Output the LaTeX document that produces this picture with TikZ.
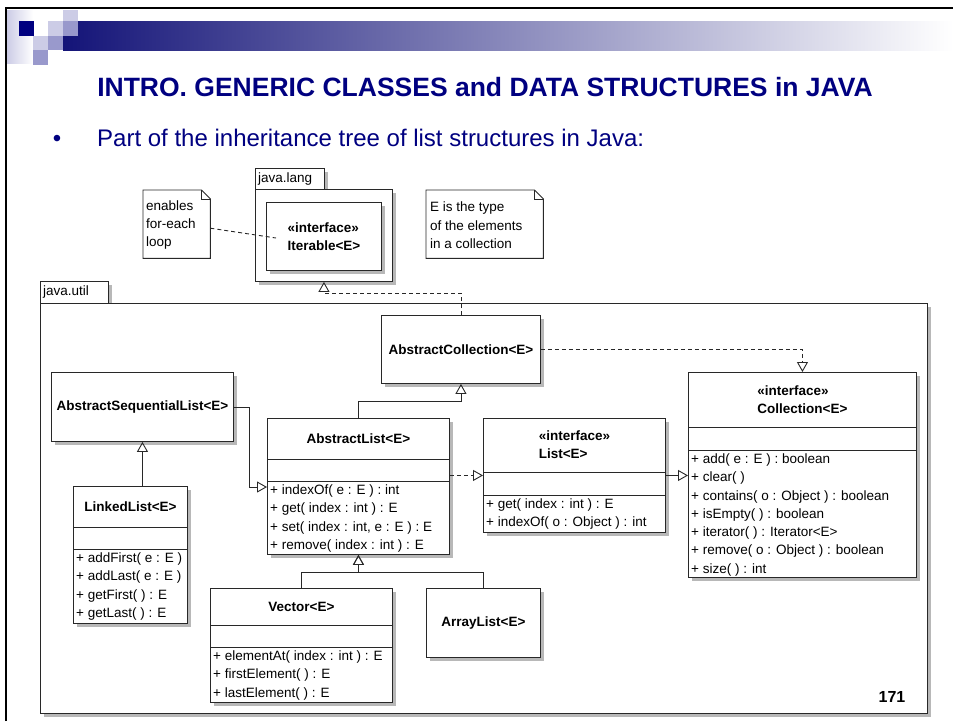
\documentclass[tikz,border=0pt]{standalone}
\usepackage{fontspec}
\setmainfont{Liberation Sans}
\usetikzlibrary{arrows.meta,shadows,calc}
\definecolor{slidenavy}{RGB}{0,0,128}
\definecolor{barnavy}{RGB}{20,20,120}
\definecolor{barmid}{RGB}{150,150,178}
\definecolor{sqlight}{RGB}{204,204,230}
\definecolor{sqmid}{RGB}{153,153,204}
\definecolor{umlline}{RGB}{40,40,40}
\newcommand{\umlfont}{\fontsize{13.5}{18.3}\selectfont}
\tikzset{
  umlbox/.style={draw=umlline, line width=0.9pt, fill=white, anchor=north west, inner sep=0pt,
    drop shadow={shadow xshift=3.5pt, shadow yshift=-3.5pt, fill=black!28, opacity=1}},
  cname/.style={font=\umlfont\bfseries, align=left, inner sep=0pt},
  members/.style={font=\umlfont, align=left, anchor=north west, inner sep=0pt},
  sepline/.style={draw=umlline, line width=0.9pt},
  notebox/.style={anchor=north west, inner sep=0pt},
  notetext/.style={font=\umlfont, align=left, anchor=west, inner sep=0pt},
  noteline/.style={draw=umlline, line width=0.9pt, fill=white},
  noteedge/.style={draw=umlline, line width=0.9pt, dash pattern=on 4pt off 3pt},
  realize/.style={draw=umlline, line width=0.9pt, dash pattern=on 4pt off 3pt,
    -{Triangle[open, length=10pt, width=11pt]}},
  extends/.style={draw=umlline, line width=0.9pt, -{Triangle[open, length=10pt, width=11pt]}},
  pkglabel/.style={font=\umlfont, anchor=west, inner sep=0pt}
}

\begin{document}
\begin{tikzpicture}[x=1pt, y=-1pt]
\useasboundingbox (0,0) rectangle (953,721);

% slide frame and banner
\shade[left color=barnavy, middle color=barmid, right color=white] (63,21) rectangle (953,50);
\shade[left color=sqlight, right color=white] (7,10) rectangle (33,63);
\fill[slidenavy] (19,21) rectangle (34,36);
\fill[sqlight] (48,21) rectangle (63,36);
\fill[sqmid] (63,21) rectangle (78,36);
\fill[sqlight] (63,10) rectangle (78,21);
\fill[sqlight] (33,36) rectangle (48,50);
\fill[sqmid] (48,36) rectangle (63,50);
\fill[sqmid] (33,50) rectangle (48,65);
\draw[line width=2.5pt] (6,721) -- (6,8) -- (953,8);

\node[anchor=base, inner sep=0pt, text=slidenavy, font=\fontsize{26.5}{30}\selectfont\bfseries]
  (title) at (485,96) {INTRO. GENERIC CLASSES and DATA STRUCTURES in JAVA};
\node[anchor=base, inner sep=0pt, text=slidenavy, font=\fontsize{24}{26}\selectfont]
  (bullet) at (57,146) {•};
\node[anchor=base west, inner sep=0pt, text=slidenavy, font=\fontsize{24}{28}\selectfont]
  (intro) at (97,146) {Part of the inheritance tree of list structures in Java:};

% packages
\node[umlbox, minimum width=69pt, minimum height=21pt] (langtab) at (255,168) {};
\node[pkglabel] (langname) at ($(langtab.west)+(3,0)$) {java.lang};
\node[umlbox, minimum width=137pt, minimum height=92pt] (lang) at (255,189) {};
\node[umlbox, minimum width=68pt, minimum height=22pt] (utiltab) at (40,281) {};
\node[pkglabel] (utilname) at ($(utiltab.west)+(3,0)$) {java.util};
\node[umlbox, minimum width=887pt, minimum height=410pt] (util) at (40,303) {};

% notes
\node[notebox, minimum width=67pt, minimum height=68pt] (note1) at (143,190) {};
\draw[noteline] (note1.north west) -- ([xshift=-9pt]note1.north east) -- ([yshift=-9pt]note1.north east)
  -- (note1.south east) -- (note1.south west) -- cycle;
\draw[noteline, fill=none] ([xshift=-9pt]note1.north east) -- ([xshift=-9pt,yshift=-9pt]note1.north east)
  -- ([yshift=-9pt]note1.north east);
\node[notetext] (note1txt) at ($(note1.west)+(3,1)$) {enables\\for-each\\loop};

\node[notebox, minimum width=117pt, minimum height=68pt] (note2) at (426,190) {};
\draw[noteline] (note2.north west) -- ([xshift=-9pt]note2.north east) -- ([yshift=-9pt]note2.north east)
  -- (note2.south east) -- (note2.south west) -- cycle;
\draw[noteline, fill=none] ([xshift=-9pt]note2.north east) -- ([xshift=-9pt,yshift=-9pt]note2.north east)
  -- ([yshift=-9pt]note2.north east);
\node[notetext] (note2txt) at ($(note2.west)+(4,1)$) {E is the type\\of the elements\\in a collection};

% classes
\node[umlbox, minimum width=115pt, minimum height=68pt] (iter) at (266,202) {};
\node[cname] (itername) at (iter.center) {«interface»\\Iterable<E>};

\node[umlbox, minimum width=159pt, minimum height=68pt] (ac) at (381,315) {};
\node[cname] (acname) at (ac.center) {AbstractCollection<E>};

\node[umlbox, minimum width=182pt, minimum height=69pt] (asl) at (51,372) {};
\node[cname] (aslname) at (asl.center) {AbstractSequentialList<E>};

\node[umlbox, minimum width=182pt, minimum height=136pt] (al) at (267,418) {};
\draw[sepline] ([yshift=-41pt]al.north west) -- ([yshift=-41pt]al.north east);
\draw[sepline] ([yshift=-63pt]al.north west) -- ([yshift=-63pt]al.north east);
\node[cname] (alname) at ($(al.north)+(0,21)$) {AbstractList<E>};
\node[members] (almem) at ($(al.north west)+(3,66.5)$)
  {+ indexOf( e : E ) : int\\+ get( index : int ) : E\\+ set( index : int, e : E ) : E\\+ remove( index : int ) : E};

\node[umlbox, minimum width=182pt, minimum height=114pt] (list) at (483,418) {};
\draw[sepline] ([yshift=-54pt]list.north west) -- ([yshift=-54pt]list.north east);
\draw[sepline] ([yshift=-77pt]list.north west) -- ([yshift=-77pt]list.north east);
\node[cname] (listname) at ($(list.north)+(0,27)$) {«interface»\\List<E>};
\node[members] (listmem) at ($(list.north west)+(3,80.5)$)
  {+ get( index : int ) : E\\+ indexOf( o : Object ) : int};

\node[umlbox, minimum width=228pt, minimum height=205pt] (coll) at (688,372) {};
\draw[sepline] ([yshift=-55pt]coll.north west) -- ([yshift=-55pt]coll.north east);
\draw[sepline] ([yshift=-78pt]coll.north west) -- ([yshift=-78pt]coll.north east);
\node[cname] (collname) at ($(coll.north)+(0,28)$) {«interface»\\Collection<E>};
\node[members] (collmem) at ($(coll.north west)+(3,81.5)$)
  {+ add( e : E ) : boolean\\+ clear( )\\+ contains( o : Object ) : boolean\\+ isEmpty( ) : boolean\\%
   + iterator( ) : Iterator<E>\\+ remove( o : Object ) : boolean\\+ size( ) : int};

\node[umlbox, minimum width=114pt, minimum height=137pt] (ll) at (73,486) {};
\draw[sepline] ([yshift=-41pt]ll.north west) -- ([yshift=-41pt]ll.north east);
\draw[sepline] ([yshift=-63pt]ll.north west) -- ([yshift=-63pt]ll.north east);
\node[cname] (llname) at ($(ll.north)+(0,21)$) {LinkedList<E>};
\node[members] (llmem) at ($(ll.north west)+(3,66.5)$)
  {+ addFirst( e : E )\\+ addLast( e : E )\\+ getFirst( ) : E\\+ getLast( ) : E};

\node[umlbox, minimum width=182pt, minimum height=114pt] (vec) at (210,588) {};
\draw[sepline] ([yshift=-37pt]vec.north west) -- ([yshift=-37pt]vec.north east);
\draw[sepline] ([yshift=-59pt]vec.north west) -- ([yshift=-59pt]vec.north east);
\node[cname] (vecname) at ($(vec.north)+(0,19)$) {Vector<E>};
\node[members] (vecmem) at ($(vec.north west)+(3,62.5)$)
  {+ elementAt( index : int ) : E\\+ firstElement( ) : E\\+ lastElement( ) : E};

\node[umlbox, minimum width=114pt, minimum height=69pt] (arr) at (426,588) {};
\node[cname] (arrname) at (arr.center) {ArrayList<E>};

% connectors
\coordinate (iterhook) at (276,238);
\draw[noteedge] ([yshift=-4pt]note1.east) -- (iterhook);
\draw[realize] (ac.north) -- ++(0,-22) -| (lang.south);
\draw[realize] (ac.east) -| (coll.north);
\draw[extends] (al.north) -- ++(0,-17) -| (ac.south);
\draw[extends] (asl.east) -- ++(16,0) |- ([yshift=-69pt]al.north west);
\draw[extends] (ll.north -| asl.south) -- (asl.south);
\draw[realize] (list.west -| al.east) -- (list.west);
\draw[extends] (list.east) -- (list.east -| coll.west);
\draw[extends] (vec.north) -- ++(0,-16) -| (al.south);
\draw[extends] (arr.north) -- ++(0,-16) -| (al.south);

\node[inner sep=0pt, font=\fontsize{16}{18}\selectfont\bfseries] (pagenum) at (892,697) {171};
\end{tikzpicture}
\end{document}
